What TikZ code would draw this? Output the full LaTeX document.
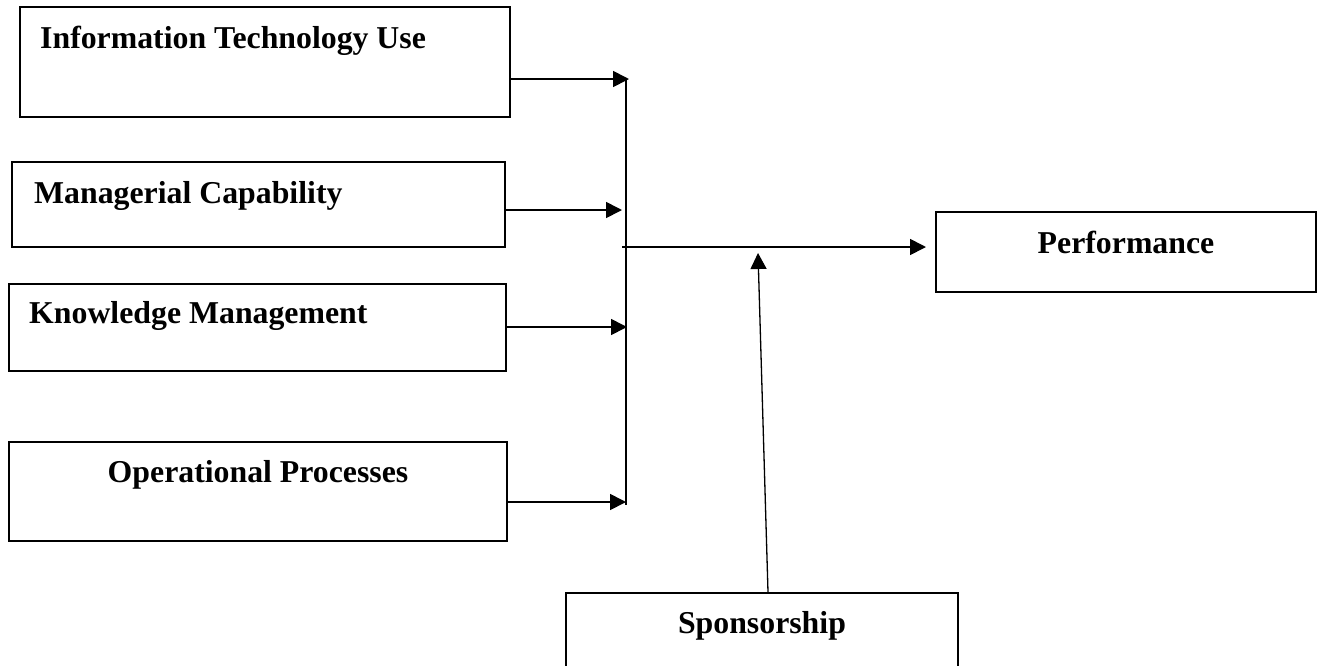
\documentclass[tikz,border=0pt]{standalone}
\usepackage{fontspec}
\setmainfont{Liberation Serif}
\usetikzlibrary{arrows.meta}

\tikzset{
  boxnode/.style={draw=black, line width=2pt, rectangle, inner sep=0pt, fill=white},
  caption/.style={font=\fontsize{31.8}{38}\selectfont\bfseries, inner sep=0pt, text=black},
  flow/.style={draw=black, line width=1.7pt, -{Triangle[length=16pt,width=16pt]}},
  bus/.style={draw=black, line width=1.7pt},
  thinflow/.style={draw=black, line width=1.3pt, -{Triangle[length=16pt,width=16pt]}}
}

\begin{document}
\begin{tikzpicture}[x=1pt, y=-1pt]
  \useasboundingbox (0,0) rectangle (1320,665);
  \clip (0,0) rectangle (1320,665);
  \fill[white] (0,0) rectangle (1320,665);

  % factor boxes
  \node[boxnode, minimum width=490pt, minimum height=110pt] (b1) at (265,62) {};
  \node[boxnode, minimum width=493pt, minimum height=85pt]  (b2) at (258.5,204.5) {};
  \node[boxnode, minimum width=497pt, minimum height=87pt]  (b3) at (257.5,327.5) {};
  \node[boxnode, minimum width=498pt, minimum height=99pt]  (b4) at (258,491.5) {};

  % outcome and moderator boxes
  \node[boxnode, minimum width=380pt, minimum height=80pt]  (perf) at (1126,252) {};
  \node[boxnode, minimum width=392pt, minimum height=110pt] (spons) at (762,648) {};

  % box captions
  \node[caption, anchor=base west] (t1) at (40,48)  {Information Technology Use};
  \node[caption, anchor=base west] (t2) at (34,203) {Managerial Capability};
  \node[caption, anchor=base west] (t3) at (29,323) {Knowledge Management};
  \node[caption, anchor=base]      (t4) at (258,482) {Operational Processes};
  \node[caption, anchor=base]      (t5) at (1126,253) {Performance};
  \node[caption, anchor=base]      (t6) at (762,633) {Sponsorship};

  % junction points on the collecting line
  \coordinate (j1) at (629,79);
  \coordinate (j2) at (622,210);
  \coordinate (j3) at (627,327);
  \coordinate (j4) at (626,502);
  \coordinate (bt) at (626,79);
  \coordinate (bb) at (626,505);
  \coordinate (h0) at (622,247);
  \coordinate (mtip) at (758,253);

  % arrows into the collecting line
  \draw[flow] (b1.east |- j1) -- (j1);
  \draw[flow] (b2.east |- j2) -- (j2);
  \draw[flow] (b3.east |- j3) -- (j3);
  \draw[flow] (b4.east |- j4) -- (j4);
  \draw[bus] (bt) -- (bb);

  % combined effect on performance
  \draw[flow, shorten >=9pt] (h0) -- (perf.west |- h0);

  % moderating arrow from sponsorship
  \draw[thinflow] ([xshift=6pt]spons.north) -- (mtip);
\end{tikzpicture}
\end{document}
